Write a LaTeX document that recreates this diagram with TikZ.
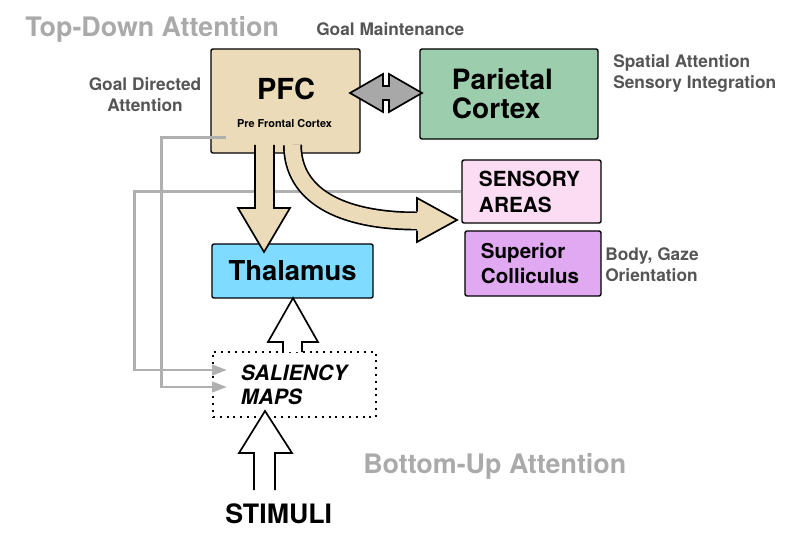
\documentclass[tikz,border=0pt]{standalone}
\usepackage{fontspec}
\setmainfont{TeX Gyre Heros}
\usetikzlibrary{positioning,calc,arrows.meta}
\definecolor{pfctan}{HTML}{EBDBB8}
\definecolor{parietalgreen}{HTML}{9CCEAD}
\definecolor{sensorypink}{HTML}{FBDCF3}
\definecolor{colliculuspurple}{HTML}{E0A9F2}
\definecolor{thalamusblue}{HTML}{7FDBFF}
\definecolor{titlegray}{HTML}{AAAAAA}
\definecolor{notegray}{HTML}{555555}
\definecolor{feedgray}{HTML}{B0B0B0}
\definecolor{dblgray}{HTML}{A8A8A8}

\begin{document}
\begin{tikzpicture}[x=0.025cm, y=-0.025cm,
area/.style={rectangle, draw=black, line width=1pt, rounded corners=1.5pt, inner ysep=0pt},
heading/.style={text=titlegray, inner sep=0pt, font=\bfseries\fontsize{19.1}{21}\selectfont},
note/.style={text=notegray, inner sep=0pt, font=\bfseries\fontsize{12.3}{15}\selectfont},
feed/.style={draw=feedgray, line width=2pt, -{Triangle[length=0.37cm, width=0.26cm]}},
block/.style={draw=black, line width=1.2pt, line join=miter}
]
\useasboundingbox (0,0) rectangle (800,538);

% headings
\node[heading, anchor=base west] (topdown) at (25,37) {Top-Down Attention};
\node[heading, anchor=base west] (bottomup) at (363,473) {Bottom-Up Attention};

% areas
\node[area, fill=pfctan, minimum width=3.725cm, minimum height=2.6cm] (pfc) at (285.5,101) {};
\node[anchor=base, inner sep=0pt, font=\bfseries\fontsize{20.6}{22}\selectfont] (pfcname) at (286,100) {PFC};
\node[anchor=base, inner sep=0pt, font=\bfseries\fontsize{7.75}{9}\selectfont] (pfcsub) at (284.5,128) {Pre Frontal Cortex};
\node[area, fill=parietalgreen, minimum width=4.45cm, minimum height=2.25cm, inner xsep=0.8cm,
  text width=2.85cm, align=left, font=\bfseries\fontsize{19.9}{20.6}\selectfont] (par) at (509,94) {Parietal\\Cortex};
\node[area, fill=sensorypink, minimum width=3.475cm, minimum height=1.575cm, inner xsep=0.425cm,
  text width=2.625cm, align=left, font=\bfseries\fontsize{14.8}{18.5}\selectfont] (sens) at (531.5,191.5) {SENSORY\\AREAS};
\node[area, fill=colliculuspurple, minimum width=3.4cm, minimum height=1.625cm, inner xsep=0.4cm,
  text width=2.6cm, align=left, font=\bfseries\fontsize{14.6}{17.8}\selectfont] (coll) at (533,263.5) {Superior\\Colliculus};
\node[area, fill=thalamusblue, minimum width=4.025cm, minimum height=1.35cm,
  font=\bfseries\fontsize{19.5}{22}\selectfont] (thal) at (292.5,271) {Thalamus};
\node[rectangle, draw=black, line width=1.5pt, dash pattern=on 0.05cm off 0.12cm,
  minimum width=4.075cm, minimum height=1.625cm, inner xsep=0.7cm, inner ysep=0pt,
  text width=2.675cm, align=left, font=\bfseries\itshape\fontsize{15}{17}\selectfont] (sal) at (294.5,384.5) {SALIENCY\\MAPS};
\node[anchor=base west, inner sep=0pt, font=\bfseries\fontsize{19}{22}\selectfont] (stimuli) at (225,523) {STIMULI};

% side notes
\node[note, anchor=base west] (goalmaint) at (316,36) {Goal Maintenance};
\node[note, align=center] (goaldir) at (145,94.5) {Goal Directed\\Attention};
\node[note, align=left, anchor=west] (spatial) at (613,73.5) {Spatial Attention\\Sensory Integration};
\node[note, align=left, anchor=west] (bodygaze) at (605,264.5) {Body, Gaze\\Orientation};

% feedback lines
\draw[feed] (sens.west) -- ++(-327,0) |- ($(sal.west)+(15,-14.5)$);
\draw[feed] ($(pfc.south west)+(16,-16)$) -- ++(-65,0) |- ($(sal.west)+(15,2.5)$);

% top-down arrows
\filldraw[block, fill=pfctan] (255,145) -- (255,208) -- (238,208) -- (264,252) -- (290,208) -- (274,208) -- (274,145);
\draw[line width=1.2pt, double=pfctan, double distance=0.39cm] (292.5,145) .. controls (292.5,195) and (340,221) .. (417,221);
\filldraw[block, fill=pfctan] (417,211.5) -- (417,198) -- (457,220) -- (417,242) -- (417,230.5);
\filldraw[block, fill=dblgray] (350,93) -- (383,74) -- (383,86) -- (389,86) -- (389,74) -- (422,93)
  -- (389,112) -- (389,100) -- (383,100) -- (383,112) -- cycle;

% bottom-up arrows
\filldraw[block, fill=white] (283,352) -- (283,342) -- (268,342) -- (293,298) -- (318,342) -- (302,342) -- (302,352);
\filldraw[block, fill=white] (254,490) -- (254,453) -- (239,453) -- (265,411) -- (292,453) -- (275,453) -- (275,490);
\end{tikzpicture}
\end{document}
